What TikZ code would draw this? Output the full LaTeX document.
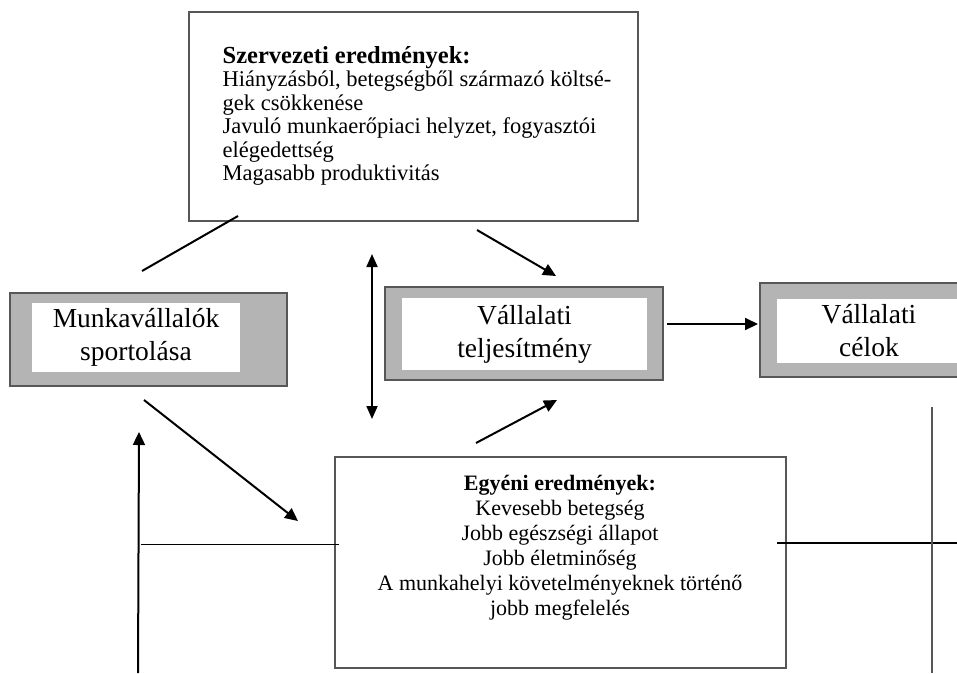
\documentclass[tikz,border=0pt]{standalone}
\usepackage{fontspec}
\setmainfont{Liberation Serif}
\usetikzlibrary{arrows.meta}
\definecolor{boxgray}{HTML}{B4B4B4}
\definecolor{edgegray}{HTML}{575757}

\begin{document}
\begin{tikzpicture}[x=1pt,y=-1pt,
        graybox/.style={draw=edgegray,line width=2.2pt,fill=boxgray,inner sep=0pt},
        whitebox/.style={fill=white,inner sep=0pt,align=center,font=\fontsize{27.5}{33}\selectfont},
        listbox/.style={draw=edgegray,line width=1.8pt,fill=white,inner sep=0pt},
        arr/.style={line width=2pt,-{Triangle[length=13pt,width=12pt]}},
        darr/.style={line width=1.8pt,{Triangle[length=13pt,width=11pt]}-{Triangle[length=13pt,width=11pt]}}]
        \useasboundingbox (0,0) rectangle (957,673);
        \clip (0,0) rectangle (957,673);
        % gray boxes with white inner fields
        \foreach \x/\y/\w/\h/\n in {148.5/339.5/277/93/munka,524/333.5/278/93/vall,875/330/230/94/celok}{
            \node[graybox,minimum width=\w,minimum height=\h] (\n) at (\x,\y) {};
        }
        \node[whitebox,minimum width=208,minimum height=69] (munkatext) at (136,337.5) {Munkavállalók\\sportolása};
        \node[whitebox,minimum width=245,minimum height=72] (valltext) at (524.5,334) {Vállalati\\teljesítmény};
        \node[whitebox,minimum width=184,minimum height=64] (celoktext) at (869,331) {Vállalati\\célok};
        % result boxes
        \node[listbox,minimum width=449,minimum height=209] (szerv) at (413.5,116.5) {};
        \node[listbox,minimum width=451,minimum height=211] (egyeni) at (560.5,562.5) {};
        \node[anchor=north west,inner sep=0pt,align=left,font=\fontsize{22.5}{23.5}\selectfont] (szervtext) at (222.5,46)
            {{\fontsize{24.5}{23.5}\selectfont\bfseries Szervezeti eredmények:}\\Hiányzásból, betegségből származó költsé-\\gek csökkenése\\Javuló munkaerőpiaci helyzet, fogyasztói\\elégedettség\\Magasabb produktivitás};
        \node[anchor=north,inner sep=0pt,align=center,font=\fontsize{22}{25}\selectfont] (egyenitext) at (560,475)
            {\textbf{Egyéni eredmények:}\\Kevesebb betegség\\Jobb egészségi állapot\\Jobb életminőség\\A munkahelyi követelményeknek történő\\jobb megfelelés};
        % free ends of the connectors
        \foreach \x/\y/\n in {142/271/la,238/216/lb,477/230/aa,556/276/ab,372/254/da,372/419/db,667/324/ca,758/324/cb,476/443/ea,557/400/eb,144/400/fa,298/521/fb,138/673/ga,139/432/gb,141/544/ha,777/543/ra,957/543/rb,932/407/va,932/673/vb}{
            \coordinate (\n) at (\x,\y);
        }
        \draw[line width=2pt] (la) -- (lb);
        \foreach \m/\n in {aa/ab,ca/cb,ea/eb,fa/fb,ga/gb}{
            \draw[arr] (\m) -- (\n);
        }
        \draw[darr] (da) -- (db);
        \draw[line width=1pt] (ha) -- ([xshift=5pt]ha -| egyeni.west);
        \draw[line width=1.2pt] (ra) -- (rb);
        \draw[line width=1.5pt,edgegray] (va) -- (vb);
\end{tikzpicture}
\end{document}
